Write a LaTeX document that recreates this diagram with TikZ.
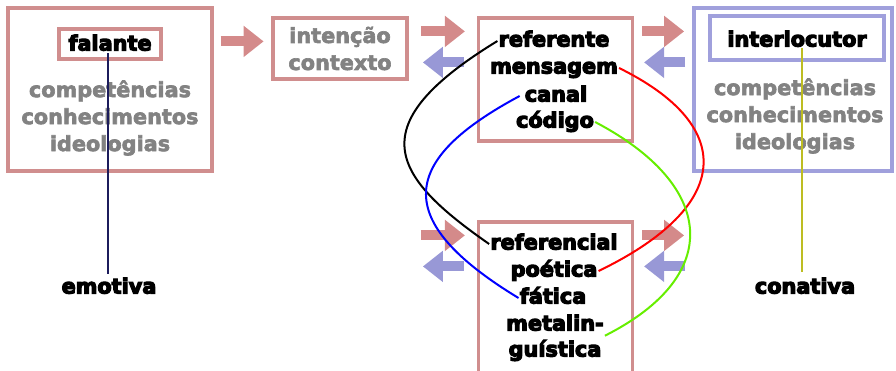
\documentclass[tikz,border=0pt]{standalone}
\usepackage{fontspec}
\setmainfont{DejaVu Sans}
\newfontfamily\heavyfont[FakeBold=5.5]{DejaVu Sans Bold}
\newfontfamily\greyfont[FakeBold=3]{DejaVu Sans Bold}
\usetikzlibrary{arrows.meta,positioning}
\definecolor{boxpink}{HTML}{D08E8E}
\definecolor{arrpink}{HTML}{D48A8A}
\definecolor{boxblue}{HTML}{A0A0DC}
\definecolor{arrblue}{HTML}{9898D6}
\definecolor{txtgray}{HTML}{828282}
\definecolor{navyl}{HTML}{1C1C5C}
\definecolor{olivel}{HTML}{BDBD22}
\definecolor{limel}{HTML}{66EE00}
\begin{document}
\begin{tikzpicture}[x=1pt, y=-1pt,
    frame/.style={draw=boxpink, line width=3.2pt, inner sep=0pt},
    bframe/.style={frame, draw=boxblue},
    grey/.style={text=txtgray, font=\fontsize{20.8}{27}\selectfont\greyfont, align=center, inner sep=1pt},
    lab/.style={font=\fontsize{20.8}{27}\selectfont\heavyfont, inner sep=1pt, text height=15pt, text depth=4pt},
    pa/.style={draw=arrpink, line width=10pt, -{Triangle[length=20pt, width=30pt]}},
    ba/.style={pa, draw=arrblue},
    fn/.style={line width=2pt}]
  \useasboundingbox (0,0) rectangle (896,370);
  % speaker side
  \node[frame, minimum width=204pt, minimum height=163pt] (spk) at (110,89.5) {};
  \node[frame, minimum width=102pt, minimum height=30pt] (fal) at (110,44) {};
  \node[lab] (falt) at (110,45) {falante};
  \node[grey] (spkt) at (110,118) {competências\\conhecimentos\\ideologias};
  \node[frame, grey, inner sep=0pt, minimum width=134pt, minimum height=61pt] (intc) at (340,48.5) {intenção\\contexto};
  % message box
  \node[frame, minimum width=154pt, minimum height=123pt] (msg) at (555.5,79.5) {};
  \node[lab] (ref) at (554,41) {referente};
  \node[lab] (mens) at (554,68) {mensagem};
  \node[lab] (can) at (556,96) {canal};
  \node[lab] (cod) at (555,122) {código};
  % listener side
  \node[bframe, minimum width=198pt, minimum height=163pt] (lis) at (793,89.5) {};
  \node[bframe, minimum width=174pt, minimum height=44pt] (inter) at (797,38) {};
  \node[lab] (intt) at (797,41) {interlocutor};
  \node[grey] (list) at (795,116) {competências\\conhecimentos\\ideologias};
  % functions box
  \node[frame, minimum width=154pt, minimum height=156pt] (fun) at (555.5,300) {};
  \node[lab] (refl) at (554,244) {referencial};
  \node[lab] (poe) at (554,271) {poética};
  \node[lab] (fat) at (553,298) {fática};
  \node[lab] (meta) at (555,325) {metalin-};
  \node[lab] (guis) at (555,351) {guística};
  \node[lab] (emo) at (109,288) {emotiva};
  \node[lab] (con) at (805,288) {conativa};
  % block arrows
  \draw[pa] ([shift={(7pt,-35pt)}]spk.north east) -- ([shift={(50pt,-35pt)}]spk.north east);
  \foreach \b in {msg,fun} {
    \draw[pa] ([shift={(-56pt,-15pt)}]\b.north west) -- ([shift={(-12pt,-15pt)}]\b.north west);
    \draw[ba] ([shift={(-13pt,-46pt)}]\b.north west) -- ([shift={(-54pt,-46pt)}]\b.north west);
    \draw[pa] ([shift={(8pt,-15pt)}]\b.north east) -- ([shift={(50pt,-15pt)}]\b.north east);
    \draw[ba] ([shift={(51pt,-46pt)}]\b.north east) -- ([shift={(10pt,-46pt)}]\b.north east);
  }
  % links
  \draw[fn, black] (ref.west) .. controls (360,125) and (390,175) .. (refl.west);
  \draw[fn, blue] ([xshift=-4pt]can.west) .. controls (400,160) and (390,220) .. (fat.west);
  \draw[fn, red] (mens.east) .. controls (735,125) and (735,205) .. (poe.east);
  \draw[fn, limel] (cod.east) .. controls (715,185) and (725,275) .. (meta.south east);
  \draw[fn, navyl] ([xshift=-2pt,yshift=-9pt]fal.center) -- ([xshift=-1pt,yshift=3pt]emo.north);
  \draw[fn, olivel] ([xshift=5pt,yshift=-10pt]inter.center) -- ([xshift=-3pt,yshift=5.5pt]con.north);
\end{tikzpicture}
\end{document}
